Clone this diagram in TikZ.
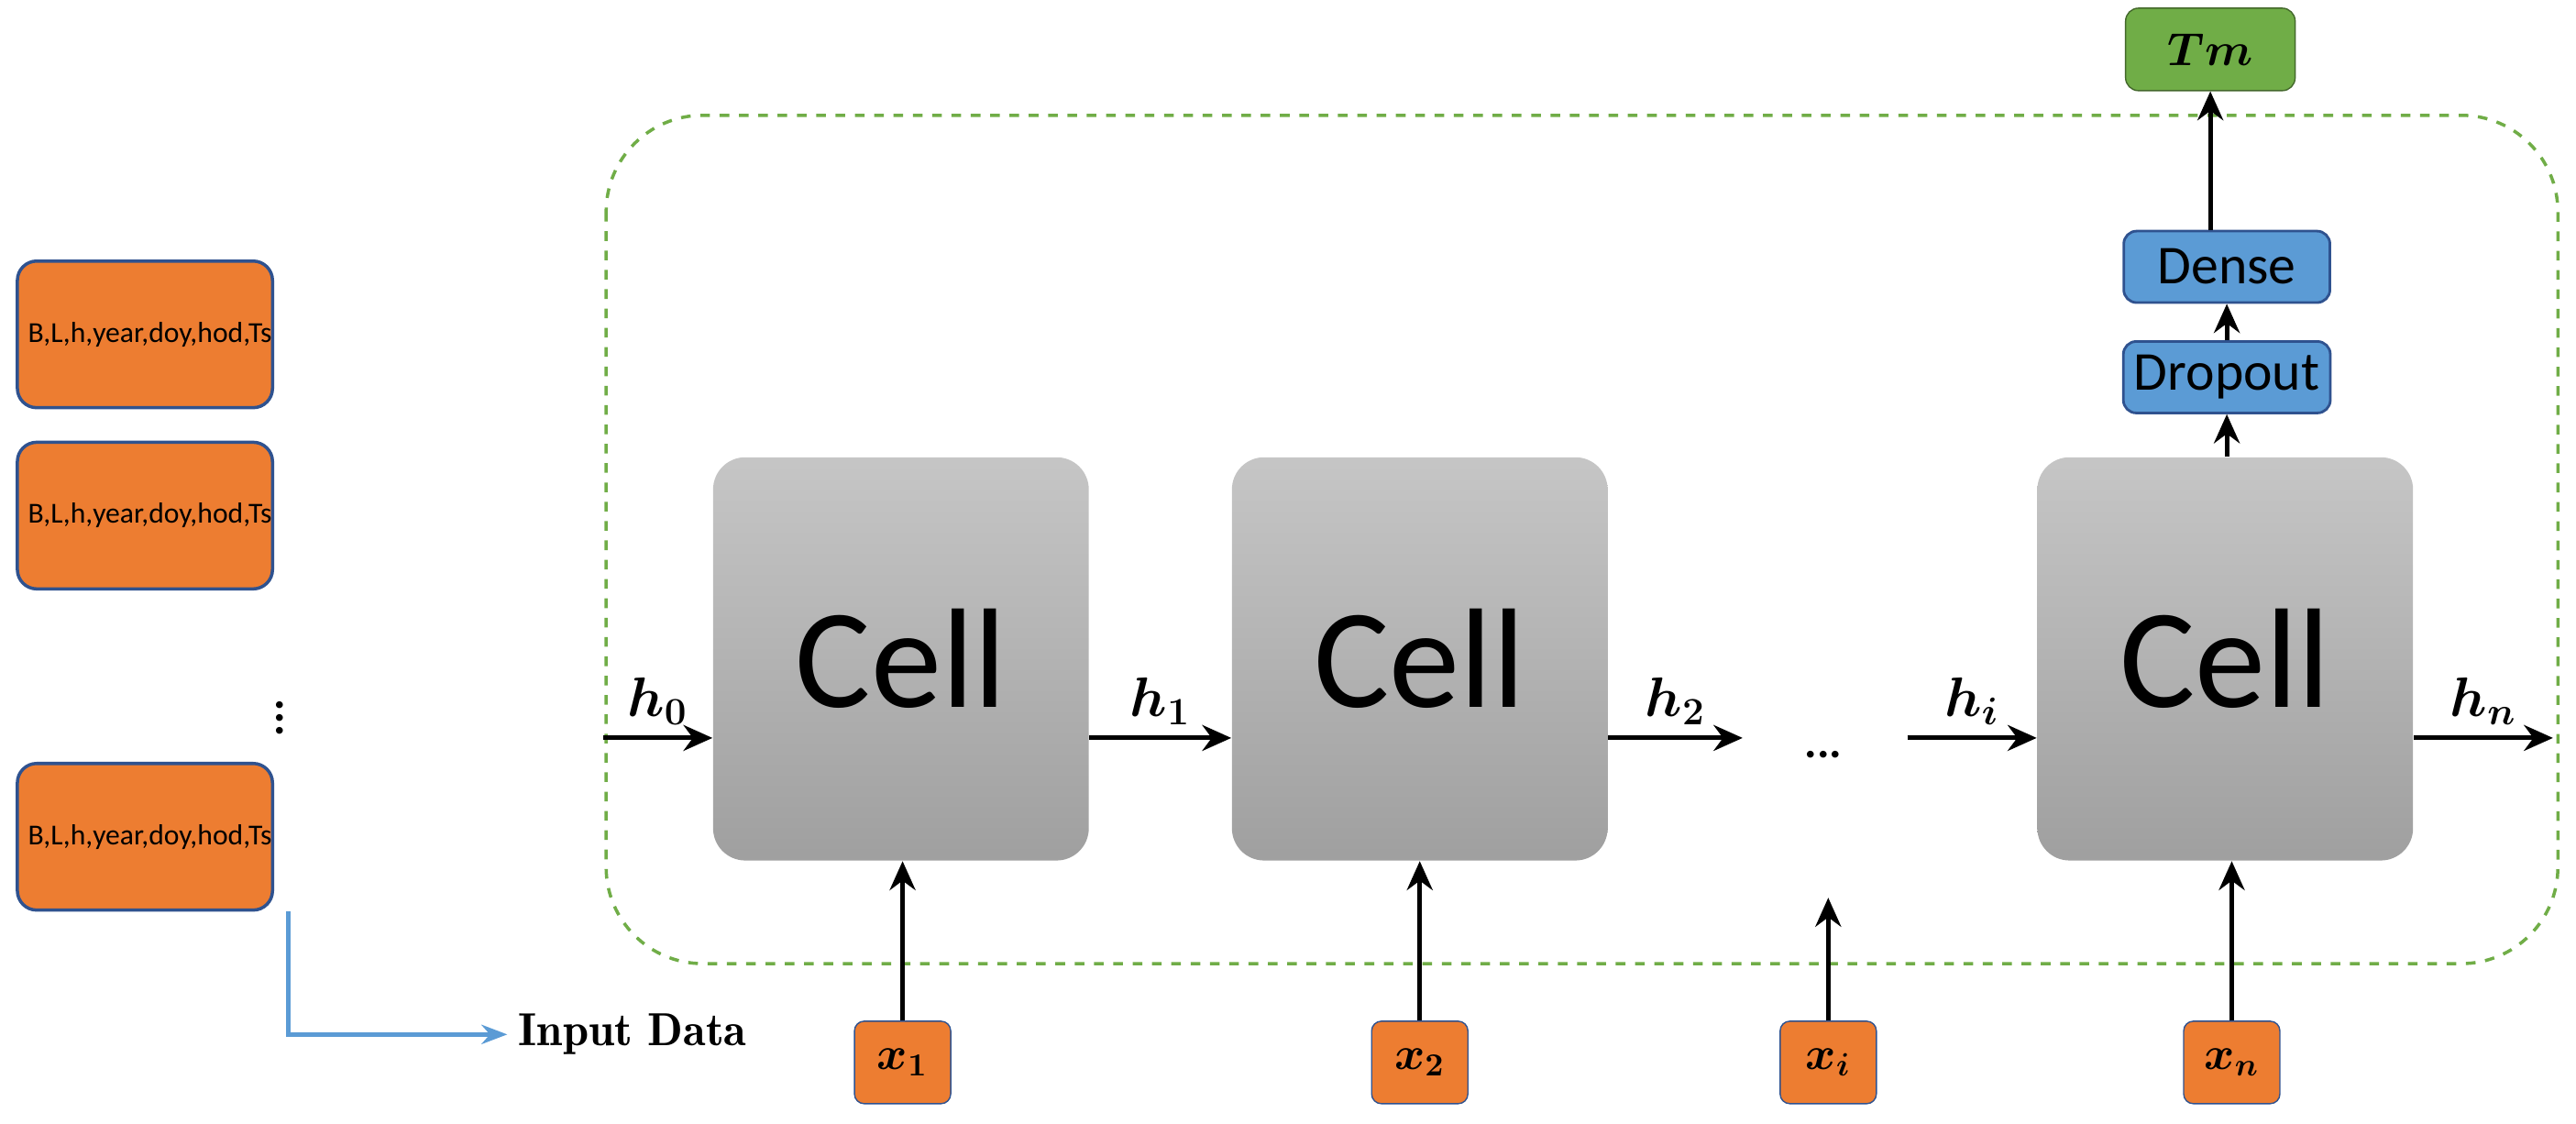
\documentclass[tikz,border=0pt]{standalone}
\usepackage{fontspec}
\setmainfont{Carlito}
\usepackage{amsmath,bm}
\usetikzlibrary{positioning, arrows.meta}
\definecolor{orng}{HTML}{ED7D31}
\definecolor{bord}{HTML}{2F528F}
\definecolor{skyb}{HTML}{5B9BD5}
\definecolor{grn}{HTML}{70AD47}
\tikzstyle{inbox} = [rectangle, rounded corners=6pt, text width=2.55cm, align=center, minimum width=2.78cm, minimum height=1.6cm, draw=bord, line width=1pt, fill=orng, font=\fontsize{9}{10}\selectfont]
\tikzstyle{cell}  = [rectangle, rounded corners=10pt, minimum width=4.1cm, minimum height=4.4cm, top color=gray!45, bottom color=gray!75, draw=none, font=\fontsize{44}{48}\selectfont]
\tikzstyle{xbox}  = [rectangle, rounded corners=3pt, minimum width=1.05cm, minimum height=0.9cm, draw=bord, fill=orng, font=\Large]
\tikzstyle{layer} = [rectangle, rounded corners=4pt, minimum width=2.25cm, minimum height=0.78cm, draw=bord, line width=0.8pt, fill=skyb, font=\fontsize{17}{18}\selectfont]
\tikzstyle{arr}   = [-{Stealth[length=9pt,width=8pt]}, line width=1.4pt]
\tikzstyle{hlab}  = [font=\LARGE]

\begin{document}
\begin{tikzpicture}[x=0.01797cm, y=-0.01797cm]
            \useasboundingbox (0,0) rectangle (1564,682);
            % container
            \draw[grn, dashed, line width=1pt, rounded corners=30pt] (368,70) rectangle (1553,585);

            % inputs on the left
            \node[inbox] (in1) at (88,203) {B,L,h,year,doy,hod,Ts};
            \node[inbox] (in2) at (88,313) {B,L,h,year,doy,hod,Ts};
            \node[font=\Large\bfseries, inner sep=0pt] (vd) at (170,430) {$\vdots$};
            \node[inbox] (in3) at (88,508) {B,L,h,year,doy,hod,Ts};
            \node[font=\fontfamily{lmr}\selectfont\bfseries\Large, anchor=west] (data) at (308,628) {Input Data};
            \coordinate (bend) at (175,628);
            \draw[skyb, line width=1.4pt, -{Stealth[length=8pt]}] (in3.south -| bend) -- (bend) -- (data.west);

            % cells
            \node[cell] (c1) at (547,400) {Cell};
            \node[cell] (c2) at (862,400) {Cell};
            \node[cell] (cn) at (1351,400) {Cell};
            \node (dots) at (1107,458) {\Large\textbf{...}};

            % hidden states
            \coordinate (h0s) at (366,448);
            \coordinate (h2e) at (1058,448);
            \coordinate (his) at (1158,448);
            \coordinate (hne) at (1550,448);
            \draw[arr] (h0s) -- (h0s -| c1.west) node[hlab, midway, above] {$\bm{h_0}$};
            \draw[arr] (c1.east |- h0s) -- (c2.west |- h0s) node[hlab, midway, above] {$\bm{h_1}$};
            \draw[arr] (c2.east |- h0s) -- (h2e) node[hlab, midway, above] {$\bm{h_2}$};
            \draw[arr] (his) -- (cn.west |- his) node[hlab, midway, above] {$\bm{h_i}$};
            \draw[arr] (cn.east |- hne) -- (hne) node[hlab, midway, above] {$\bm{h_n}$};

            % x inputs
            \node[xbox] (x1) at (548,645) {$\bm{x_1}$};
            \node[xbox] (x2) at (862,645) {$\bm{x_2}$};
            \node[xbox] (xi) at (1110,645) {$\bm{x_i}$};
            \node[xbox] (xn) at (1355,645) {$\bm{x_n}$};
            \coordinate (xie) at (1110,545);
            \draw[arr] (x1.north) -- (x1.north |- c1.south);
            \draw[arr] (x2.north) -- (x2.north |- c2.south);
            \draw[arr] (xi.north) -- (xie);
            \draw[arr] (xn.north) -- (xn.north |- cn.south);

            % output layers
            \node[layer] (drop) at (1352,229) {Dropout};
            \node[layer] (dense) at (1352,162) {Dense};
            \node[rectangle, rounded corners=4pt, minimum width=1.85cm, minimum height=0.9cm, draw=grn!60!black, fill=grn, font=\Large] (tm) at (1342,30) {$\bm{Tm}$};
            \draw[arr] (cn.north -| drop) -- (drop.south);
            \draw[arr] (drop.north) -- (dense.south);
            \draw[arr] (dense.north -| tm) -- (tm.south);
        \end{tikzpicture}
\end{document}
